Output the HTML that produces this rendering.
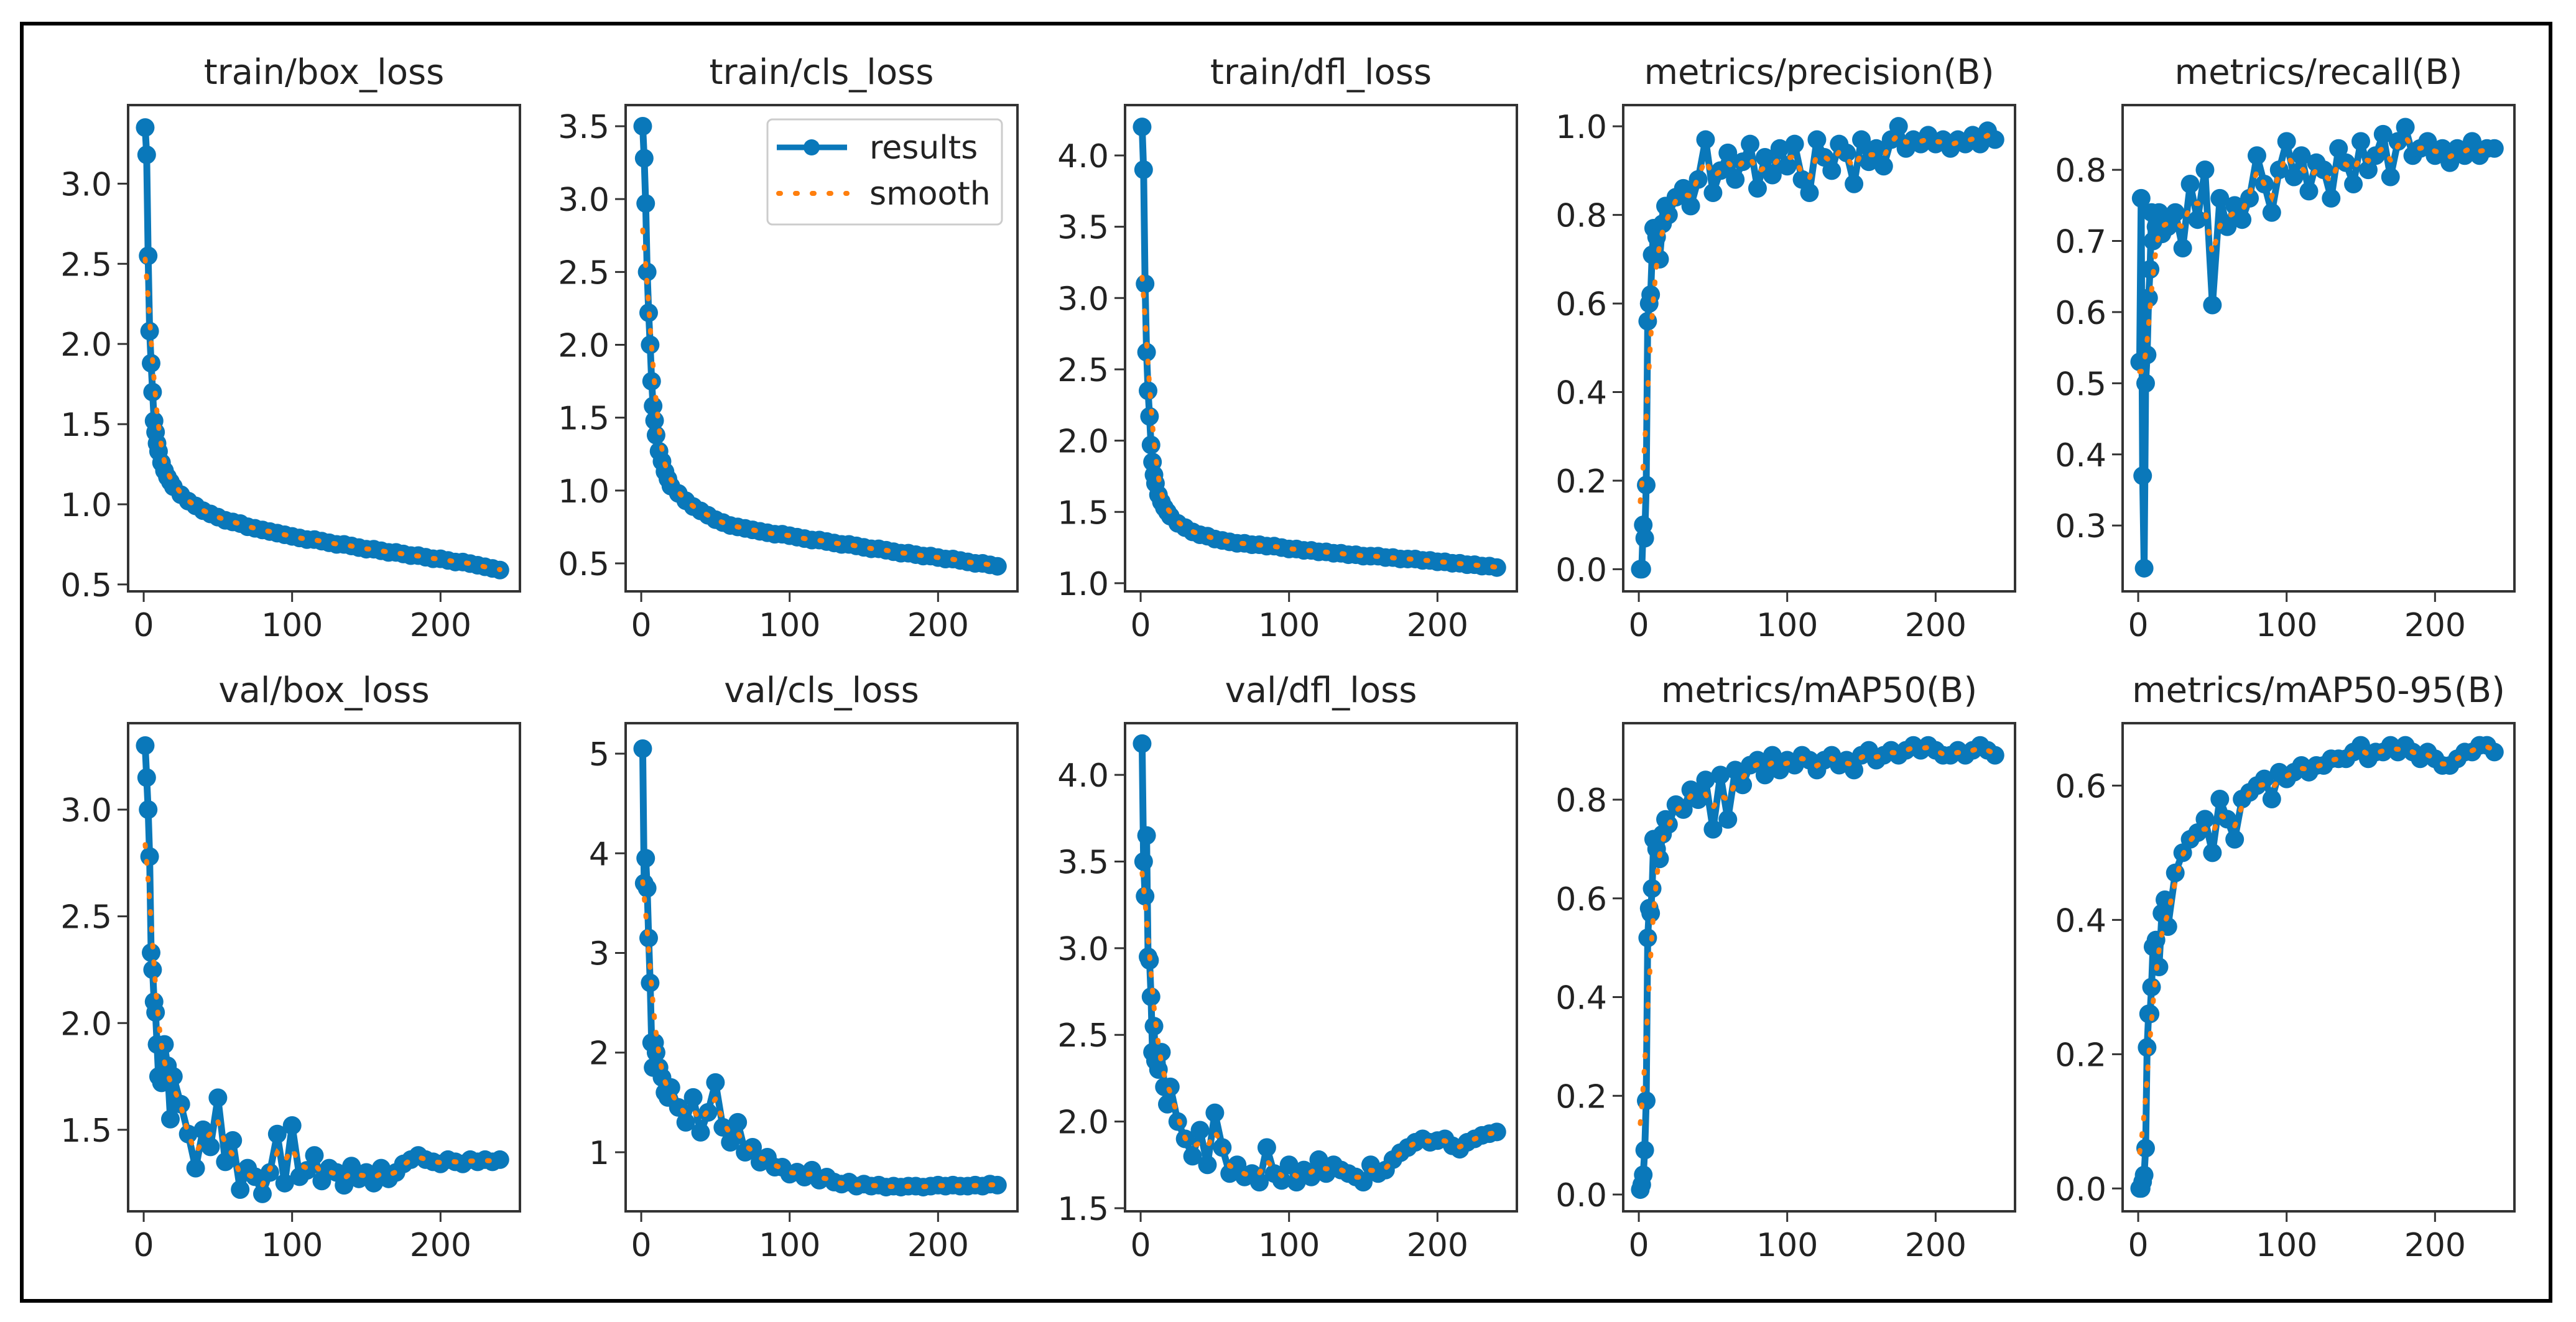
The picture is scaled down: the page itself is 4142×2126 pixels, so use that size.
<!DOCTYPE html>
<html><head><meta charset="utf-8">
<style>
html,body{margin:0;padding:0;background:#fff;}
svg{display:block;font-family:"DejaVu Sans","Liberation Sans",sans-serif;}
</style></head>
<body>
<svg id="fig" width="4142" height="2126" viewBox="0 0 4142 2126">
<rect x="0" y="0" width="4142" height="2126" fill="#fff"/>
<rect x="35" y="38" width="4066" height="2054" fill="none" stroke="#000" stroke-width="6"/>
<g id="plots"></g>
</svg>
<script>
const epochs = [1,2,3,4,5,6,7,8,9,10,12,14,16,18,20,25,30,35,40,45,50,55,60,65,70,75,80,85,90,95,100,105,110,115,120,125,130,135,140,145,150,155,160,165,170,175,180,185,190,195,200,205,210,215,220,225,230,235,240];
const titles = ["train/box_loss","train/cls_loss","train/dfl_loss","metrics/precision(B)","metrics/recall(B)","val/box_loss","val/cls_loss","val/dfl_loss","metrics/mAP50(B)","metrics/mAP50-95(B)"];
const trainBox = [3.35,3.18,2.55,2.08,1.88,1.70,1.52,1.45,1.38,1.33,1.26,1.21,1.17,1.14,1.11,1.06,1.02,0.99,0.96,0.94,0.92,0.90,0.89,0.88,0.86,0.85,0.84,0.83,0.82,0.81,0.80,0.79,0.78,0.78,0.77,0.76,0.75,0.75,0.74,0.73,0.72,0.72,0.71,0.70,0.70,0.69,0.68,0.68,0.67,0.66,0.66,0.65,0.64,0.64,0.63,0.62,0.61,0.60,0.59];
const trainCls = [3.5,3.28,2.97,2.5,2.22,2.0,1.75,1.58,1.48,1.38,1.27,1.2,1.13,1.08,1.03,0.98,0.93,0.89,0.86,0.83,0.80,0.78,0.76,0.75,0.74,0.73,0.72,0.71,0.70,0.70,0.69,0.68,0.67,0.66,0.66,0.65,0.64,0.63,0.63,0.62,0.61,0.60,0.60,0.59,0.58,0.57,0.57,0.56,0.55,0.55,0.54,0.53,0.53,0.52,0.51,0.50,0.50,0.49,0.48];
const trainDfl = [4.2,3.9,3.1,2.62,2.35,2.17,1.97,1.85,1.76,1.70,1.62,1.57,1.53,1.50,1.47,1.42,1.39,1.36,1.34,1.33,1.31,1.30,1.29,1.28,1.28,1.27,1.27,1.26,1.26,1.25,1.24,1.24,1.23,1.23,1.22,1.22,1.21,1.21,1.20,1.20,1.19,1.19,1.19,1.18,1.18,1.17,1.17,1.17,1.16,1.16,1.15,1.15,1.14,1.14,1.13,1.13,1.12,1.12,1.11];
const precision = [0.0,0.0,0.1,0.07,0.19,0.56,0.6,0.62,0.71,0.77,0.75,0.70,0.78,0.82,0.80,0.84,0.86,0.82,0.88,0.97,0.85,0.90,0.94,0.88,0.92,0.96,0.86,0.93,0.89,0.95,0.91,0.96,0.88,0.85,0.97,0.93,0.90,0.96,0.94,0.87,0.97,0.92,0.95,0.91,0.97,1.00,0.95,0.97,0.96,0.98,0.96,0.97,0.95,0.97,0.96,0.98,0.96,0.99,0.97];
const recall = [0.53,0.76,0.37,0.24,0.50,0.54,0.62,0.66,0.74,0.70,0.72,0.74,0.71,0.73,0.72,0.74,0.69,0.78,0.73,0.80,0.61,0.76,0.72,0.75,0.73,0.76,0.82,0.78,0.74,0.80,0.84,0.79,0.82,0.77,0.81,0.80,0.76,0.83,0.81,0.78,0.84,0.80,0.82,0.85,0.79,0.84,0.86,0.82,0.83,0.84,0.82,0.83,0.81,0.83,0.82,0.84,0.82,0.83,0.83];
const valBox = [3.3,3.15,3.0,2.78,2.33,2.25,2.1,2.05,1.9,1.75,1.72,1.9,1.8,1.55,1.75,1.62,1.48,1.32,1.5,1.42,1.65,1.35,1.45,1.22,1.32,1.28,1.20,1.30,1.48,1.25,1.52,1.28,1.31,1.38,1.26,1.32,1.30,1.24,1.33,1.27,1.30,1.25,1.32,1.27,1.30,1.34,1.36,1.38,1.36,1.35,1.34,1.36,1.35,1.34,1.36,1.35,1.36,1.35,1.36];
const valCls = [5.05,3.7,3.95,3.65,3.15,2.7,2.1,1.85,2.1,2.0,1.85,1.75,1.6,1.55,1.65,1.45,1.3,1.55,1.2,1.4,1.7,1.25,1.1,1.3,1.0,1.05,0.9,0.95,0.85,0.85,0.78,0.80,0.75,0.82,0.72,0.75,0.70,0.68,0.70,0.66,0.68,0.66,0.67,0.65,0.66,0.65,0.66,0.66,0.65,0.66,0.67,0.66,0.67,0.66,0.66,0.67,0.66,0.68,0.67];
const valDfl = [4.18,3.5,3.3,3.65,2.95,2.93,2.72,2.4,2.55,2.35,2.3,2.4,2.2,2.1,2.2,2.0,1.9,1.8,1.95,1.75,2.05,1.85,1.7,1.75,1.68,1.70,1.65,1.85,1.70,1.66,1.75,1.65,1.72,1.68,1.78,1.70,1.75,1.72,1.70,1.68,1.65,1.75,1.70,1.72,1.78,1.82,1.85,1.88,1.90,1.88,1.89,1.90,1.86,1.84,1.88,1.90,1.92,1.93,1.94];
const map50 = [0.01,0.02,0.04,0.09,0.19,0.52,0.58,0.57,0.62,0.72,0.70,0.68,0.73,0.76,0.75,0.79,0.78,0.82,0.80,0.84,0.74,0.85,0.76,0.86,0.83,0.87,0.88,0.85,0.89,0.86,0.88,0.87,0.89,0.88,0.86,0.88,0.89,0.87,0.88,0.86,0.89,0.90,0.88,0.89,0.90,0.89,0.90,0.91,0.90,0.91,0.90,0.89,0.89,0.90,0.89,0.90,0.91,0.90,0.89];
const map5095 = [0.0,0.0,0.01,0.02,0.06,0.21,0.26,0.26,0.30,0.36,0.37,0.33,0.41,0.43,0.39,0.47,0.50,0.52,0.53,0.55,0.50,0.58,0.55,0.52,0.58,0.59,0.60,0.61,0.58,0.62,0.61,0.62,0.63,0.62,0.63,0.63,0.64,0.64,0.64,0.65,0.66,0.64,0.65,0.65,0.66,0.65,0.66,0.65,0.64,0.65,0.64,0.63,0.63,0.64,0.65,0.65,0.66,0.66,0.65];
const yTicks = [[0.5,1.0,1.5,2.0,2.5,3.0],[0.5,1.0,1.5,2.0,2.5,3.0,3.5],[1.0,1.5,2.0,2.5,3.0,3.5,4.0],[0.0,0.2,0.4,0.6,0.8,1.0],[0.3,0.4,0.5,0.6,0.7,0.8],[1.5,2.0,2.5,3.0],[1,2,3,4,5],[1.5,2.0,2.5,3.0,3.5,4.0],[0.0,0.2,0.4,0.6,0.8],[0.0,0.2,0.4,0.6]];
const yTickLabels = [["0.5","1.0","1.5","2.0","2.5","3.0"],["0.5","1.0","1.5","2.0","2.5","3.0","3.5"],["1.0","1.5","2.0","2.5","3.0","3.5","4.0"],["0.0","0.2","0.4","0.6","0.8","1.0"],["0.3","0.4","0.5","0.6","0.7","0.8"],["1.5","2.0","2.5","3.0"],["1","2","3","4","5"],["1.5","2.0","2.5","3.0","3.5","4.0"],["0.0","0.2","0.4","0.6","0.8"],["0.0","0.2","0.4","0.6"]];
const yMins = [0.457,0.308,0.943,-0.05,0.2075,1.118,0.407,1.482,-0.034,-0.034];
const yMaxs = [3.49,3.645,4.353,1.048,0.891,3.405,5.306,4.298,0.955,0.693];
const xTicks = [0,100,200];
const series = [trainBox,trainCls,trainDfl,precision,recall,valBox,valCls,valDfl,map50,map5095];

const NS="http://www.w3.org/2000/svg";
const root=document.getElementById('plots');
const colL=[206,1006,1809,2610,3413], W=630;
const rowT=[169,1163], H=[782,785];
const XMIN=-10.5, XMAX=253.5;
const BLUE="#0a78ba", ORANGE="#ff7f0e";
function mk(tag,attrs,parent){const e=document.createElementNS(NS,tag);for(const k in attrs)e.setAttribute(k,attrs[k]);(parent||root).appendChild(e);return e;}
function smooth(xs,ys,sig){return ys.map((_,i)=>{let s=0,w=0;for(let j=0;j<ys.length;j++){const d=xs[j]-xs[i];const wt=Math.exp(-d*d/(2*sig*sig));s+=wt*ys[j];w+=wt;}return s/w;});}
const slug=t=>t.replace(/[^a-z0-9]+/gi,'-').replace(/-+$/,'').toLowerCase();

series.forEach((ys,p)=>{
  const L=colL[p%5], T=rowT[Math.floor(p/5)], h=H[Math.floor(p/5)];
  const xs=v=>L+(v-XMIN)/(XMAX-XMIN)*W;
  const yv=v=>T+h-(v-yMins[p])/(yMaxs[p]-yMins[p])*h;
  const g=mk('g',{});
  
  
  const tt=mk('text',{x:L+W/2,y:T-34,'text-anchor':'middle','font-size':56,fill:'#222'},g);
  tt.textContent=titles[p];
  
  
  yTicks[p].forEach((v,i)=>{
    const y=yv(v);
    const tk=mk('line',{x1:L-17,x2:L,y1:y,y2:y,stroke:'#333','stroke-width':3},g);
    
    
    const lb=mk('text',{x:L-26,y:y+19,'text-anchor':'end','font-size':52,fill:'#222'},g);
    lb.textContent=yTickLabels[p][i];
    
    
  });
  xTicks.forEach(v=>{
    const x=xs(v);
    const tk=mk('line',{x1:x,x2:x,y1:T+h,y2:T+h+17,stroke:'#333','stroke-width':3},g);
    
    
    const lb=mk('text',{x:x,y:T+h+72,'text-anchor':'middle','font-size':52,fill:'#222'},g);
    lb.textContent=String(v);
    
    
  });
  const n=Math.min(ys.length,epochs.length);
  const pts=[];for(let i=0;i<n;i++)pts.push([xs(epochs[i]),yv(ys[i])]);
  const d=pts.map((q,i)=>(i?'L':'M')+q[0].toFixed(1)+' '+q[1].toFixed(1)).join(' ');
  const ln=mk('path',{d:d,fill:'none',stroke:BLUE,'stroke-width':11,'stroke-linejoin':'round'},g);
  
  
  pts.forEach(q=>{
    const c=mk('circle',{cx:q[0],cy:q[1],r:15,fill:BLUE},g);
    
    
  });
  const sm=smooth(epochs.slice(0,n),ys.slice(0,n),3.5);
  const ds=sm.map((v,i)=>(i?'L':'M')+xs(epochs[i]).toFixed(1)+' '+yv(v).toFixed(1)).join(' ');
  const sl=mk('path',{d:ds,fill:'none',stroke:ORANGE,'stroke-width':8,'stroke-dasharray':'3 24','stroke-linecap':'round'},g);
  
  
  const fr=mk('rect',{x:L,y:T,width:W,height:h,fill:'none',stroke:'#333','stroke-width':4},g);
  
  
  if(p===1){
    const lg=mk('g',{});
    
    
    mk('rect',{x:1234,y:192,width:377,height:169,rx:8,fill:'#fff','fill-opacity':0.9,stroke:'#ccc','stroke-width':3},lg);
    const l1=mk('line',{x1:1249,x2:1362,y1:237,y2:237,stroke:BLUE,'stroke-width':9},lg);
    
    
    mk('circle',{cx:1305,cy:237,r:13,fill:BLUE},lg);
    const t1=mk('text',{x:1398,y:255,'font-size':52,fill:'#222'},lg);t1.textContent='results';
    
    
    const l2=mk('line',{x1:1252,x2:1362,y1:311,y2:311,stroke:ORANGE,'stroke-width':8,'stroke-dasharray':'3 24','stroke-linecap':'round'},lg);
    
    
    const t2=mk('text',{x:1398,y:329,'font-size':52,fill:'#222'},lg);t2.textContent='smooth';
    
    
  }
});
</script>
</body></html>
